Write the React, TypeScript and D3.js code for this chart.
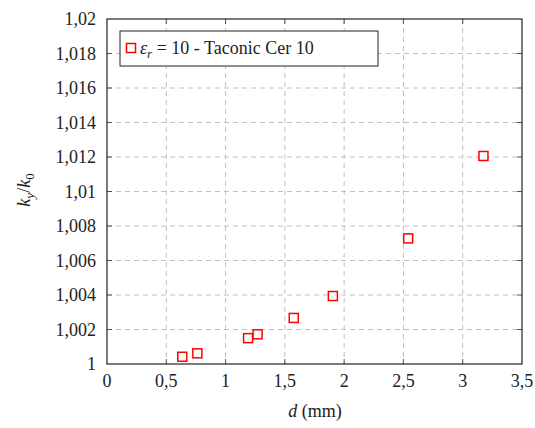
import React, { useEffect, useRef } from "react";
import * as d3 from "d3";

const dValues = [0.635, 0.762, 1.19, 1.27, 1.575, 1.905, 2.54, 3.175];
const kRatio = [1.00042, 1.00062, 1.0015, 1.00172, 1.00267, 1.00394, 1.00728, 1.01206];
const xTicks = [0, 0.5, 1, 1.5, 2, 2.5, 3, 3.5];
const xTickLabels = ["0", "0,5", "1", "1,5", "2", "2,5", "3", "3,5"];
const yTicks = [1, 1.002, 1.004, 1.006, 1.008, 1.01, 1.012, 1.014, 1.016, 1.018, 1.02];
const yTickLabels = ["1", "1,002", "1,004", "1,006", "1,008", "1,01", "1,012", "1,014", "1,016", "1,018", "1,02"];

const W = 535, H = 428;
const L = 107, R = 522, T = 19, B = 364;
const FONT = "Liberation Serif";

export default function App() {
  const ref = useRef<SVGSVGElement>(null);
  useEffect(() => {
    const svg = d3.select(ref.current);
    svg.selectAll("*").remove();
    const x = d3.scaleLinear().domain([0, 3.5]).range([L, R]);
    const y = d3.scaleLinear().domain([1, 1.02]).range([B, T]);
    const fs = 18;

    svg.selectAll("line.gx").data(xTicks.slice(1, -1)).join("line")
      .attr("x1", (d) => x(d)).attr("x2", (d) => x(d)).attr("y1", T).attr("y2", B)
      .attr("stroke", "#c0c0c0").attr("stroke-dasharray", "5,4");
    svg.selectAll("line.gy").data(yTicks.slice(1, -1)).join("line")
      .attr("x1", L).attr("x2", R).attr("y1", (d) => y(d)).attr("y2", (d) => y(d))
      .attr("stroke", "#c0c0c0").attr("stroke-dasharray", "5,4");
    const tk = svg.append("g").attr("stroke", "#555");
    xTicks.slice(1, -1).forEach((t) => {
      tk.append("line").attr("x1", x(t)).attr("x2", x(t)).attr("y1", B).attr("y2", B - 5);
      tk.append("line").attr("x1", x(t)).attr("x2", x(t)).attr("y1", T).attr("y2", T + 5);
    });
    yTicks.slice(1, -1).forEach((t) => {
      tk.append("line").attr("x1", L).attr("x2", L + 5).attr("y1", y(t)).attr("y2", y(t));
      tk.append("line").attr("x1", R).attr("x2", R - 5).attr("y1", y(t)).attr("y2", y(t));
    });
    svg.append("rect").attr("x", L).attr("y", T).attr("width", R - L).attr("height", B - T)
      .attr("fill", "none").attr("stroke", "#222").attr("stroke-width", 1.2);

    const txt = (xx: number, yy: number, anchor: string) =>
      svg.append("text").attr("x", xx).attr("y", yy).attr("text-anchor", anchor)
        .attr("font-size", fs).attr("fill", "#222").attr("font-family", FONT).style("font-family", FONT);

    xTicks.forEach((t, i) => txt(x(t), 387, "middle").text(xTickLabels[i]));
    yTicks.forEach((t, i) => txt(96, y(t) + 6, "end").text(yTickLabels[i]));

    const xl = txt(315, 417, "middle");
    xl.append("tspan").attr("font-style", "italic").text("d");
    xl.append("tspan").text(" (mm)");

    const yl = svg.append("text").attr("transform", "translate(30,190) rotate(-90)")
      .attr("text-anchor", "middle").attr("font-size", fs).attr("fill", "#222")
      .attr("font-family", FONT).style("font-family", FONT);
    yl.append("tspan").attr("font-style", "italic").text("k");
    yl.append("tspan").attr("font-style", "italic").attr("font-size", 13).attr("dy", 4).text("y");
    yl.append("tspan").attr("dy", -4).text("/");
    yl.append("tspan").attr("font-style", "italic").text("k");
    yl.append("tspan").attr("font-size", 13).attr("dy", 4).text("0");

    svg.selectAll("rect.pt").data(dValues).join("rect")
      .attr("x", (d) => x(d) - 4.5).attr("y", (d, i) => y(kRatio[i]) - 4.5)
      .attr("width", 9).attr("height", 9).attr("fill", "#fff").attr("stroke", "#ff0000").attr("stroke-width", 1.5);

    svg.append("rect").attr("x", 120).attr("y", 31).attr("width", 258).attr("height", 35)
      .attr("fill", "#fff").attr("stroke", "#222");
    svg.append("rect").attr("x", 126.5).attr("y", 43.5).attr("width", 9).attr("height", 9)
      .attr("fill", "#fff").attr("stroke", "#ff0000").attr("stroke-width", 1.5);
    const lg = txt(140, 54, "start");
    lg.append("tspan").attr("font-style", "italic").text("ε");
    lg.append("tspan").attr("font-style", "italic").attr("font-size", 13).attr("dy", 4).text("r");
    lg.append("tspan").attr("dy", -4).text(" = 10 - Taconic Cer 10");
  }, []);
  return (
    <svg ref={ref} width={W} height={H} style={{ position: "absolute", left: 0, top: 0 }} />
  );
}
